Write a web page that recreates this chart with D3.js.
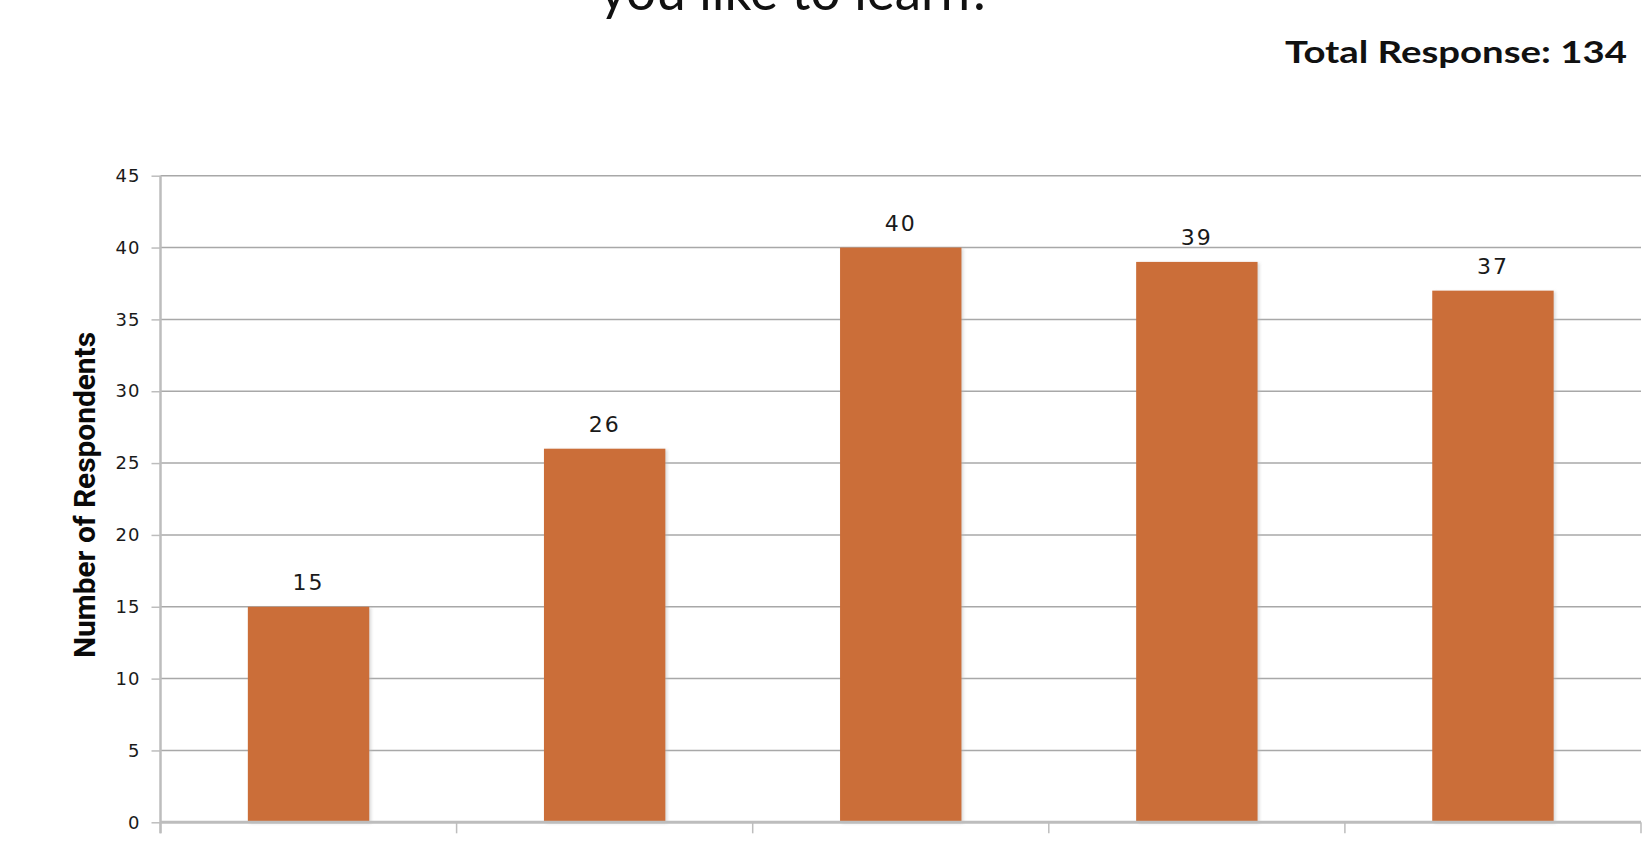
<!DOCTYPE html>
<html>
<head>
<meta charset="utf-8">
<script src="https://cdn.jsdelivr.net/npm/d3@7"></script>
<style>
  html, body { margin: 0; padding: 0; background: #fff; }
  svg { display: block; }
</style>
</head>
<body>
<svg id="chart" width="1647" height="848"></svg>
<script>
// ---- data ----
const categories = ["A", "B", "C", "D", "E"];
const values = [15, 26, 40, 39, 37];
const yTicks = [0, 5, 10, 15, 20, 25, 30, 35, 40, 45];
const titleText = "you like to learn?";
const totalText = "Total Response: 134";
const yTitle = "Number of Respondents";

(function () {
const svg = d3.select("#chart");
const pLeft = 160.5, pRight = 1641, pTop = 175.7, pBottom = 822.3;

const x = d3.scaleBand().domain(categories).range([pLeft, pRight]).paddingInner(0.59).paddingOuter(0.295);
const xb = d3.scaleBand().domain(categories).range([pLeft, pRight]);
const y = d3.scaleLinear().domain([0, 45]).range([pBottom, pTop]);

const geo = "'Lato', 'DejaVu Sans', sans-serif";
const num = "'DejaVu Sans', 'Lato', sans-serif";

// title fragment (cut off at top, as in the reference)
svg.append("text")
  .attr("x", 796).attr("y", 10)
  .attr("text-anchor", "middle")
  .attr("font-family", geo)
  .attr("font-size", 54)
  .attr("textLength", 393).attr("lengthAdjust", "spacingAndGlyphs")
  .attr("fill", "#111")
  .text(titleText);

svg.append("text")
  .attr("x", 1627).attr("y", 63)
  .attr("text-anchor", "end")
  .attr("font-family", geo)
  .attr("font-weight", 700)
  .attr("font-size", 30)
  .attr("textLength", 342).attr("lengthAdjust", "spacingAndGlyphs")
  .attr("fill", "#111")
  .text(totalText);

// gridlines
svg.append("g").selectAll("line")
  .data(yTicks.filter(d => d > 0))
  .join("line")
  .attr("x1", pLeft).attr("x2", pRight)
  .attr("y1", d => y(d)).attr("y2", d => y(d))
  .attr("stroke", "#a8a8a8").attr("stroke-width", 1.5);

// y axis
const yAxis = svg.append("g")
  .attr("transform", `translate(${pLeft},0)`)
  .call(d3.axisLeft(y).tickValues(yTicks).tickSize(9).tickPadding(11));
yAxis.select(".domain").attr("stroke", "#bdbdbd").attr("stroke-width", 2.5)
  .attr("d", `M0,${pTop}V${pBottom + 11}`);
yAxis.selectAll(".tick line").attr("stroke", "#bdbdbd").attr("stroke-width", 1.5);
yAxis.selectAll(".tick text")
  .attr("font-family", num).attr("font-size", 18).attr("fill", "#1a1a1a")
  .attr("letter-spacing", 1);

// bar shadows
svg.append("g").selectAll("rect")
  .data(values)
  .join("rect")
  .attr("x", (d, i) => x(categories[i]) + 2)
  .attr("y", d => y(d) + 1)
  .attr("width", x.bandwidth())
  .attr("height", d => pBottom - y(d))
  .attr("fill", "#bbb").attr("opacity", 0.5)
  .style("filter", "blur(1.5px)");

// bars
svg.append("g").selectAll("rect")
  .data(values)
  .join("rect")
  .attr("x", (d, i) => x(categories[i]))
  .attr("y", d => y(d))
  .attr("width", x.bandwidth())
  .attr("height", d => pBottom - y(d))
  .attr("fill", "#cb6e39");

// x axis baseline and ticks
svg.append("line")
  .attr("x1", pLeft).attr("x2", pRight)
  .attr("y1", pBottom).attr("y2", pBottom)
  .attr("stroke", "#bdbdbd").attr("stroke-width", 3);
const xTickPos = categories.map(c => xb(c)).concat([pRight]);
svg.append("g").selectAll("line")
  .data(xTickPos)
  .join("line")
  .attr("x1", d => d).attr("x2", d => d)
  .attr("y1", pBottom).attr("y2", pBottom + 11)
  .attr("stroke", "#bdbdbd").attr("stroke-width", 1.5);

// value labels
svg.append("g").selectAll("text")
  .data(values)
  .join("text")
  .attr("x", (d, i) => x(categories[i]) + x.bandwidth() / 2)
  .attr("y", d => y(d) - 17)
  .attr("text-anchor", "middle")
  .attr("font-family", num)
  .attr("font-size", 22)
  .attr("letter-spacing", 2)
  .attr("fill", "#1a1a1a")
  .text(d => d);

// y title
svg.append("text")
  .attr("transform", "translate(95,495) rotate(-90)")
  .attr("text-anchor", "middle")
  .attr("font-family", "'Liberation Sans Narrow', 'Roboto', sans-serif")
  .attr("font-weight", 700)
  .attr("font-size", 30)
  .attr("textLength", 326).attr("lengthAdjust", "spacingAndGlyphs")
  .attr("fill", "#0a0a0a")
  .text(yTitle);
})();
</script>
</body>
</html>
